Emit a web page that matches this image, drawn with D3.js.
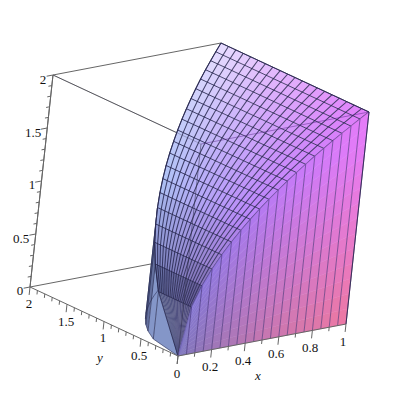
<!DOCTYPE html>
<html><head><meta charset="utf-8">
<style>html,body{margin:0;padding:0;background:#fff}svg{display:block}text{font-family:"Liberation Serif",serif;font-size:13px;fill:#111;text-anchor:middle;dominant-baseline:central}</style>
<script src="https://cdn.jsdelivr.net/npm/d3@7"></script></head><body>
<script>
const gridX=[0,0.05,0.1,0.15,0.2,0.25,0.3,0.35,0.4,0.45,0.5,0.55,0.6,0.65,0.7,0.75,0.8,0.85,0.9,0.95,1];
const surfaceZ=[0,0.447,0.632,0.775,0.894,1,1.095,1.183,1.265,1.342,1.414,1.483,1.549,1.612,1.673,1.732,1.789,1.844,1.897,1.949,2];
const boundY=[0,0.447,0.632,0.775,0.894,1,1.095,1.183,1.265,1.342,1.414,1.483,1.549,1.612,1.673,1.732,1.789,1.844,1.897,1.949,2];
const xTicks=[0,0.1,0.2,0.3,0.4,0.5,0.6,0.7,0.8,0.9,1];
const xLabels=["","","0.2","","0.4","","0.6","","0.8","","1"];
const yTicks=[0,0.1,0.2,0.3,0.4,0.5,0.6,0.7,0.8,0.9,1,1.1,1.2,1.3,1.4,1.5,1.6,1.7,1.8,1.9,2];
const zTicks=yTicks;
const yDivisions=20;

const W=400,H=400;
const xToPx=d3.scaleLinear([0,1],[0,168]), xToPy=d3.scaleLinear([0,1],[0,-32]);
const yToPx=d3.scaleLinear([0,2],[0,-148]), yToPy=d3.scaleLinear([0,2],[0,-69]);
const zToPx=d3.scaleLinear([0,2],[0,23]),  zToPy=d3.scaleLinear([0,2],[0,-212]);
const ox=178,oy=356;
const P=(x,y,z)=>[ox+xToPx(x)+yToPx(y)+zToPx(z), oy+xToPy(x)+yToPy(y)+zToPy(z)];

const svg=d3.select("body").append("svg").attr("width",W).attr("height",H);
const line=d3.line();
const path=(pts,o)=>{const p=svg.append("path").attr("d",line(pts)+(o.close?"Z":""));
  p.attr("fill",o.fill||"none").attr("stroke",o.stroke||"none").attr("stroke-width",o.w||1).attr("stroke-opacity",o.op==null?1:o.op).attr("stroke-linejoin","round");return p;};
const BOX="#666666";

// back box edges
path([P(0,2,0),P(0,2,2)],{stroke:BOX});
path([P(0,2,2),P(1,2,2)],{stroke:BOX});
path([P(0,2,2),P(0,0,2)],{stroke:BOX});
path([P(0,2,0),P(1,2,0)],{stroke:BOX});

// colour stops
const stopX=[0,0.05,0.1,0.15,0.35,1];
const lowR=d3.scaleLinear(stopX,["#484474","#585488","#7c6cb0","#9a80d0","#bb84fa","#e17dfa"]);
const highR=d3.scaleLinear(stopX,["#4a4e78","#5a6290","#7480b8","#8f98d4","#b0c4f6","#e8deff"]);
const wallTone=d3.scaleLinear([0,0.05,0.1,0.15,0.2,1],["#8496c8","#8496c8","#64709e","#566290","#4a5080","#4a5080"]);

// back wall y = boundary
for(let i=gridX.length-2;i>=0;i--){
  const a=[gridX[i],boundY[i],surfaceZ[i]], b=[gridX[i+1],boundY[i+1],surfaceZ[i+1]];
  const c=wallTone(a[0]);
  path([P(a[0],a[1],0),P(b[0],b[1],0),P(b[0],b[1],b[2]),P(a[0],a[1],a[2])],{fill:c,stroke:c,w:.4});
  path([P(b[0],b[1],0),P(b[0],b[1],b[2])],{stroke:"#23264a",w:.8,op:.8});
}
path(gridX.map((x,i)=>P(x,boundY[i],0)),{stroke:"#2a2c50",w:.8,op:.7});

// top surface cells
for(let i=0;i<gridX.length-1;i++){
  for(let j=0;j<yDivisions;j++){
    const f0=j/yDivisions,f1=(j+1)/yDivisions;
    const col=d3.interpolateRgb(lowR((gridX[i]+gridX[i+1])/2),highR((gridX[i]+gridX[i+1])/2))((f0+f1)/2);
    path([P(gridX[i],boundY[i]*f0,surfaceZ[i]),P(gridX[i+1],boundY[i+1]*f0,surfaceZ[i+1]),
          P(gridX[i+1],boundY[i+1]*f1,surfaceZ[i+1]),P(gridX[i],boundY[i]*f1,surfaceZ[i])],{fill:col,stroke:col,w:.3});
  }
}
const MESH="#26264c";
for(let i=1;i<gridX.length;i++) path([P(gridX[i],0,surfaceZ[i]),P(gridX[i],boundY[i],surfaceZ[i])],{stroke:MESH,w:1,op:.8});
for(let j=0;j<=yDivisions;j++){
  const f=j/yDivisions;
  path(gridX.slice(1).map((x,k)=>P(x,boundY[k+1]*f,surfaceZ[k+1])),{stroke:MESH,w:1.05,op:.8});
}
path(gridX.map((x,i)=>P(x,boundY[i],surfaceZ[i])),{stroke:MESH,w:.9,op:.85});

// front wall y = 0
const pinkR=d3.scaleLinear([0,0.25,0.5,1],[125,165,197,238]);
const pinkG=d3.scaleLinear([0,1],[118,120]);
const pinkB=d3.scaleLinear([0,1],[188,162]);
const pinkColor=(x,z)=>d3.rgb(pinkR(x)-4*z,pinkG(x)+2*z,Math.min(248,pinkB(x)+50*z));
const parts=14;
for(let i=0;i<gridX.length-1;i++){
  for(let k=0;k<parts;k++){
    const x0=gridX[i],x1=gridX[i+1],a=k/parts,b=(k+1)/parts;
    const c=pinkColor((x0+x1)/2,(surfaceZ[i]+surfaceZ[i+1])/2*(a+b)/2)+"";
    path([P(x0,0,surfaceZ[i]*a),P(x1,0,surfaceZ[i+1]*a),P(x1,0,surfaceZ[i+1]*b),P(x0,0,surfaceZ[i]*b)],{fill:c,stroke:c,w:.5});
  }
}
for(let i=1;i<gridX.length;i++) path([P(gridX[i],0,0),P(gridX[i],0,surfaceZ[i])],{stroke:"#3c2c70",w:.8,op:.75});
path(gridX.map((x,i)=>P(x,0,surfaceZ[i])),{stroke:"#3c2c70",w:.6,op:.45});

// box edges seen through the surface
path([P(0,0,0),P(0,0,2)],{stroke:"#30304c",w:.9,op:.6});
path([P(0,0,2),P(1,0,2)],{stroke:"#502080",w:.9,op:.5});
path([P(0,0,2),P(0,2,2)],{stroke:"#30304c",w:.8,op:.35});
path([P(1,2,2),P(1,0,2)],{stroke:"#2a2a50",w:1,op:.85});
path([P(1,0,2),P(1,0,0)],{stroke:"#2a2a50",w:1,op:.85});

// axes
path([P(0,0,0),P(1,0,0)],{stroke:BOX});
path([P(0,0,0),P(0,2,0)],{stroke:BOX});
path([P(0,2,0),P(0,2,2)],{stroke:BOX});
const along=(v,l)=>{const n=Math.hypot(v[0],v[1]);return [v[0]/n*l,v[1]/n*l];};
const downDir=[-23,212], leftDir=[-168,32];
const tick=(p,d)=>path([p,[p[0]+d[0],p[1]+d[1]]],{stroke:BOX});
xTicks.forEach((t,i)=>tick(P(t,0,0),along(downDir,i%2==0?8:4)));
yTicks.forEach((t,i)=>tick(P(0,t,0),along(downDir,i%5==0?8:4)));
zTicks.forEach((t,i)=>tick(P(0,2,t),along(leftDir,i%5==0?6.5:3.5)));

const label=(s,x,y,it)=>svg.append("text").attr("x",x).attr("y",y).style("font-style",it?"italic":"normal").text(s);
const xLabelPos=[[210,366],[243,360],[276,353],[310,347],[343,341]];
xLabels.filter(s=>s).forEach((s,i)=>label(s,...xLabelPos[i]));
const yLabels=["2","1.5","1","0.5","0"], yLabelPos=[[29,303],[66,321],[103,337],[139,355],[177,373]];
yLabels.forEach((s,i)=>label(s,...yLabelPos[i]));
const zLabels=["2","1.5","1","0.5","0"], zLabelPos=[[43,79],[33,132],[32,184],[21,238],[20,290]];
zLabels.forEach((s,i)=>label(s,...zLabelPos[i]));
label("x",258,375,true);label("y",100,357,true);
</script></body></html>
